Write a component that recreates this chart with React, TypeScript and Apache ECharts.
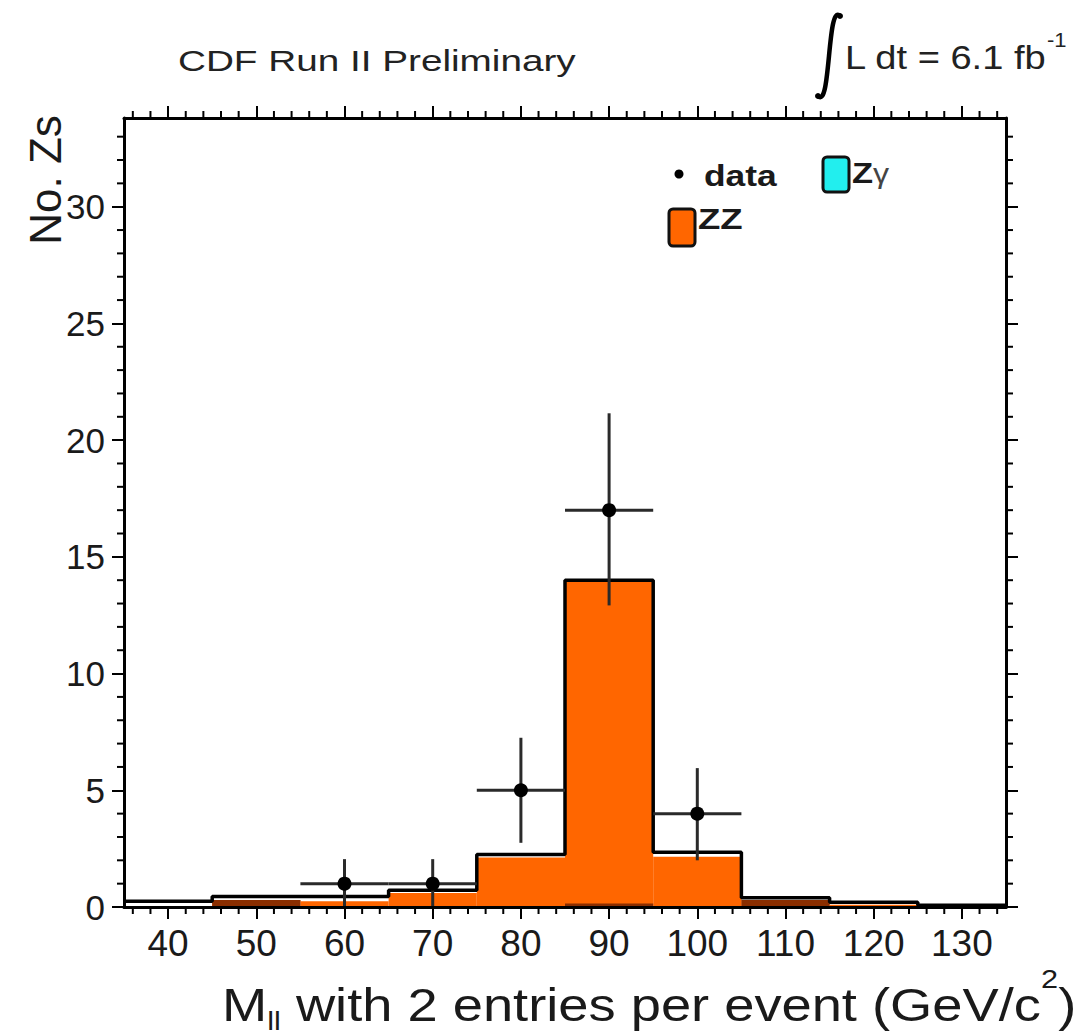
import React, { useEffect, useRef } from "react";
import * as echarts from "echarts";

// ---- data ----
const binLow = [35, 45, 55, 65, 75, 85, 95, 105, 115, 125];
const binHigh = [45, 55, 65, 75, 85, 95, 105, 115, 125, 135];
const totalExpected = [0.25, 0.45, 0.45, 0.72, 2.25, 14.0, 2.35, 0.4, 0.2, 0.08];
const zzValues = [0, 0.3, 0.25, 0.6, 2.12, 13.95, 2.15, 0.3, 0.1, 0];
const otherValues = [0, 0.3, 0, 0, 0, 0.15, 0, 0.3, 0, 0];

const dataMass = [60, 70, 80, 90, 100];
const dataCounts = [1, 1, 5, 17, 4];
const dataErrLow = [1, 1, 2.25, 4.08, 2];
const dataErrHigh = [1.05, 1.05, 2.25, 4.15, 1.95];
const dataHalfWidth = [5, 5, 5, 5, 5];

const xTickLabels = [40, 50, 60, 70, 80, 90, 100, 110, 120, 130];
const yTickLabels = [0, 5, 10, 15, 20, 25, 30];
const xMinorTicks = [36, 38, 42, 44, 46, 48, 52, 54, 56, 58, 62, 64, 66, 68, 72, 74, 76, 78, 82, 84, 86, 88, 92, 94, 96, 98, 102, 104, 106, 108, 112, 114, 116, 118, 122, 124, 126, 128, 132, 134];
const yMinorTicks = [1, 2, 3, 4, 6, 7, 8, 9, 11, 12, 13, 14, 16, 17, 18, 19, 21, 22, 23, 24, 26, 27, 28, 29, 31, 32, 33];

const X_MIN = 35;
const X_MAX = 135;
const Y_MIN = 0;
const Y_MAX = 33.8;

const FONT = "'Liberation Sans', Arial, Helvetica, sans-serif";
const TXT = "#1a1a1a";
const ORANGE = "#ff6600";
const BROWN = "#8a2e00";
const CYAN = "#22eeee";

const histItem = (color: string) => (params: any, api: any) => {
  const lo = api.value(0);
  const hi = api.value(1);
  const v = api.value(2);
  if (!v) return null;
  const p1 = api.coord([lo, v]);
  const p2 = api.coord([hi, 0]);
  return {
    type: "rect",
    shape: { x: p1[0], y: p1[1], width: p2[0] - p1[0], height: p2[1] - p1[1] },
    style: { fill: color },
  };
};

function buildOption() {
  const axisLineStyle = { show: true, onZero: false, lineStyle: { color: "#000", width: 3 } };
  const xAxisBase = {
    type: "value",
    min: X_MIN,
    max: X_MAX,
    z: 10,
    axisLine: axisLineStyle,
    axisTick: { show: true, inside: false, length: 12, customValues: xTickLabels, lineStyle: { color: "#000", width: 2 } },
    splitLine: { show: false },
    minorTick: { show: false },
  };
  const yAxisBase = {
    type: "value",
    min: Y_MIN,
    max: Y_MAX,
    z: 10,
    axisLine: axisLineStyle,
    axisTick: { show: true, inside: false, length: 12, customValues: yTickLabels, lineStyle: { color: "#000", width: 2 } },
    splitLine: { show: false },
    minorTick: { show: false },
  };

  const histData = (vals: number[]) => vals.map((v, i) => [binLow[i], binHigh[i], v]);
  const stepData = totalExpected.map((v, i) => [binLow[i], v]);
  stepData.push([binHigh[binHigh.length - 1], totalExpected[totalExpected.length - 1]]);

  return {
    animation: false,
    backgroundColor: "#ffffff",
    grid: { left: 124, right: 86, top: 118, bottom: 128, outerBoundsMode: "none" },
    xAxis: [
      {
        ...xAxisBase,
        position: "bottom",
        axisLabel: { customValues: xTickLabels, margin: 18, fontSize: 37, fontFamily: FONT, color: TXT },
      },
      { ...xAxisBase, position: "top", axisLabel: { show: false } },
    ],
    yAxis: [
      {
        ...yAxisBase,
        position: "left",
        axisLabel: { customValues: yTickLabels, margin: 19, fontSize: 35, fontFamily: FONT, color: TXT },
      },
      { ...yAxisBase, position: "right", axisLabel: { show: false } },
    ],
    series: [
      {
        name: "ZZ",
        type: "custom",
        xAxisIndex: 0,
        yAxisIndex: 0,
        renderItem: histItem(ORANGE),
        encode: { x: [0, 1], y: 2 },
        data: histData(zzValues),
        silent: true,
      },
      {
        name: "other",
        type: "custom",
        xAxisIndex: 0,
        yAxisIndex: 0,
        renderItem: histItem(BROWN),
        encode: { x: [0, 1], y: 2 },
        data: histData(otherValues),
        silent: true,
      },
      {
        name: "total",
        type: "line",
        xAxisIndex: 0,
        yAxisIndex: 0,
        step: "end",
        showSymbol: false,
        symbol: "none",
        lineStyle: { color: "#000", width: 3.5 },
        data: stepData,
        silent: true,
      },
      {
        name: "data",
        type: "custom",
        xAxisIndex: 0,
        yAxisIndex: 0,
        encode: { x: 0, y: 1 },
        data: dataMass.map((m, i) => [m, dataCounts[i], dataErrLow[i], dataErrHigh[i], dataHalfWidth[i]]),
        renderItem: (params: any, api: any) => {
          const x = api.value(0);
          const y = api.value(1);
          const el = api.value(2);
          const eh = api.value(3);
          const xw = api.value(4);
          const c = api.coord([x, y]);
          const l = api.coord([x - xw, y]);
          const r = api.coord([x + xw, y]);
          const lo = api.coord([x, y - el]);
          const hi = api.coord([x, y + eh]);
          const st = { stroke: "#2a2a2a", lineWidth: 3 };
          return {
            type: "group",
            children: [
              { type: "line", shape: { x1: l[0], y1: l[1], x2: r[0], y2: r[1] }, style: st },
              { type: "line", shape: { x1: lo[0], y1: lo[1], x2: hi[0], y2: hi[1] }, style: st },
              { type: "circle", shape: { cx: c[0], cy: c[1], r: 7 }, style: { fill: "#000" } },
            ],
          };
        },
        silent: true,
        z: 5,
      },
      {
        name: "xMinor",
        type: "custom",
        xAxisIndex: 0,
        yAxisIndex: 0,
        clip: false,
        encode: { x: 0, y: 1 },
        data: xMinorTicks.map((v) => [v, Y_MIN]),
        renderItem: (params: any, api: any) => {
          const v = api.value(0);
          const b = api.coord([v, Y_MIN]);
          const t = api.coord([v, Y_MAX]);
          const st = { stroke: "#000", lineWidth: 2 };
          return {
            type: "group",
            children: [
              { type: "line", shape: { x1: b[0], y1: b[1], x2: b[0], y2: b[1] + 7 }, style: st },
              { type: "line", shape: { x1: t[0], y1: t[1], x2: t[0], y2: t[1] - 7 }, style: st },
            ],
          };
        },
        silent: true,
      },
      {
        name: "yMinor",
        type: "custom",
        xAxisIndex: 0,
        yAxisIndex: 0,
        clip: false,
        encode: { x: 0, y: 1 },
        data: yMinorTicks.map((v) => [X_MIN, v]),
        renderItem: (params: any, api: any) => {
          const v = api.value(1);
          const a = api.coord([X_MIN, v]);
          const b = api.coord([X_MAX, v]);
          const st = { stroke: "#000", lineWidth: 2 };
          return {
            type: "group",
            children: [
              { type: "line", shape: { x1: a[0], y1: a[1], x2: a[0] - 7, y2: a[1] }, style: st },
              { type: "line", shape: { x1: b[0], y1: b[1], x2: b[0] + 7, y2: b[1] }, style: st },
            ],
          };
        },
        silent: true,
      },
    ],
    graphic: [
      {
        type: "text",
        x: 178,
        y: 61,
        scaleX: 1.29,
        style: { text: "CDF Run II Preliminary", fontSize: 30, fontFamily: FONT, fill: "#222", textAlign: "left", verticalAlign: "middle" },
      },
      // integral sign
      {
        type: "bezierCurve",
        shape: { x1: 840, y1: 16, cpx1: 827, cpy1: 2, cpx2: 831, cpy2: 110, x2: 818, y2: 96 },
        style: { stroke: "#000", lineWidth: 4.5, fill: null },
      },
      { type: "circle", shape: { cx: 840, cy: 16, r: 3 }, style: { fill: "#000" } },
      { type: "circle", shape: { cx: 818, cy: 96, r: 3 }, style: { fill: "#000" } },
      {
        type: "text",
        x: 845,
        y: 57,
        scaleX: 1.12,
        style: { text: "L dt = 6.1 fb", fontSize: 34, fontFamily: FONT, fill: "#222", textAlign: "left", verticalAlign: "middle" },
      },
      {
        type: "text",
        x: 1047,
        y: 40,
        scaleX: 1.1,
        style: { text: "-1", fontSize: 20, fontFamily: FONT, fill: "#222", textAlign: "left", verticalAlign: "middle" },
      },
      // y-axis title
      {
        type: "text",
        x: 45,
        y: 180,
        rotation: Math.PI / 2,
        style: { text: "No. Zs", fontSize: 44, fontFamily: FONT, fill: TXT, textAlign: "center", verticalAlign: "middle" },
      },
      // x-axis title
      {
        type: "text",
        x: 222,
        y: 1005,
        scaleX: 1.18,
        style: {
          text: "{m|M}{sub|ll}{m| with 2 entries per event (GeV/c}{sup|2}{m|)}",
          fontFamily: FONT,
          fill: TXT,
          textAlign: "left",
          verticalAlign: "middle",
          rich: {
            m: { fontSize: 46, lineHeight: 50, fontFamily: FONT, fill: TXT },
            sub: { fontSize: 26, lineHeight: 26, padding: [32, 0, 0, 0], fontFamily: FONT, fill: TXT },
            sup: { fontSize: 26, lineHeight: 26, padding: [0, 0, 52, 0], fontFamily: FONT, fill: TXT },
          },
        },
      },
      // legend
      { type: "circle", shape: { cx: 679, cy: 174, r: 4.5 }, style: { fill: "#000" } },
      {
        type: "text",
        x: 704,
        y: 175,
        scaleX: 1.18,
        style: { text: "data", fontSize: 30, fontWeight: "bold", fontFamily: FONT, fill: TXT, textAlign: "left", verticalAlign: "middle" },
      },
      {
        type: "rect",
        shape: { x: 823, y: 157, width: 26, height: 35, r: 4 },
        style: { fill: CYAN, stroke: "#111", lineWidth: 3 },
      },
      {
        type: "text",
        x: 852,
        y: 173,
        scaleX: 1.15,
        style: {
          text: "{b|Z}{g|γ}",
          fontFamily: FONT,
          textAlign: "left",
          verticalAlign: "middle",
          rich: {
            b: { fontSize: 30, fontWeight: "bold", fontFamily: FONT, fill: TXT },
            g: { fontSize: 28, fontFamily: FONT, fill: "#444" },
          },
        },
      },
      {
        type: "rect",
        shape: { x: 669, y: 209, width: 26, height: 37, r: 4 },
        style: { fill: ORANGE, stroke: "#111", lineWidth: 3 },
      },
      {
        type: "text",
        x: 698,
        y: 219,
        scaleX: 1.22,
        style: { text: "ZZ", fontSize: 30, fontWeight: "bold", fontFamily: FONT, fill: TXT, textAlign: "left", verticalAlign: "middle" },
      },
    ],
  };
}

export default function App() {
  const ref = useRef<HTMLDivElement>(null);
  useEffect(() => {
    document.body.style.margin = "0";
    const chart = echarts.init(ref.current as HTMLDivElement, null, { renderer: "svg" });
    chart.setOption(buildOption() as any);
    return () => chart.dispose();
  }, []);
  return <div ref={ref} style={{ width: 1092, height: 1035 }} />;
}
